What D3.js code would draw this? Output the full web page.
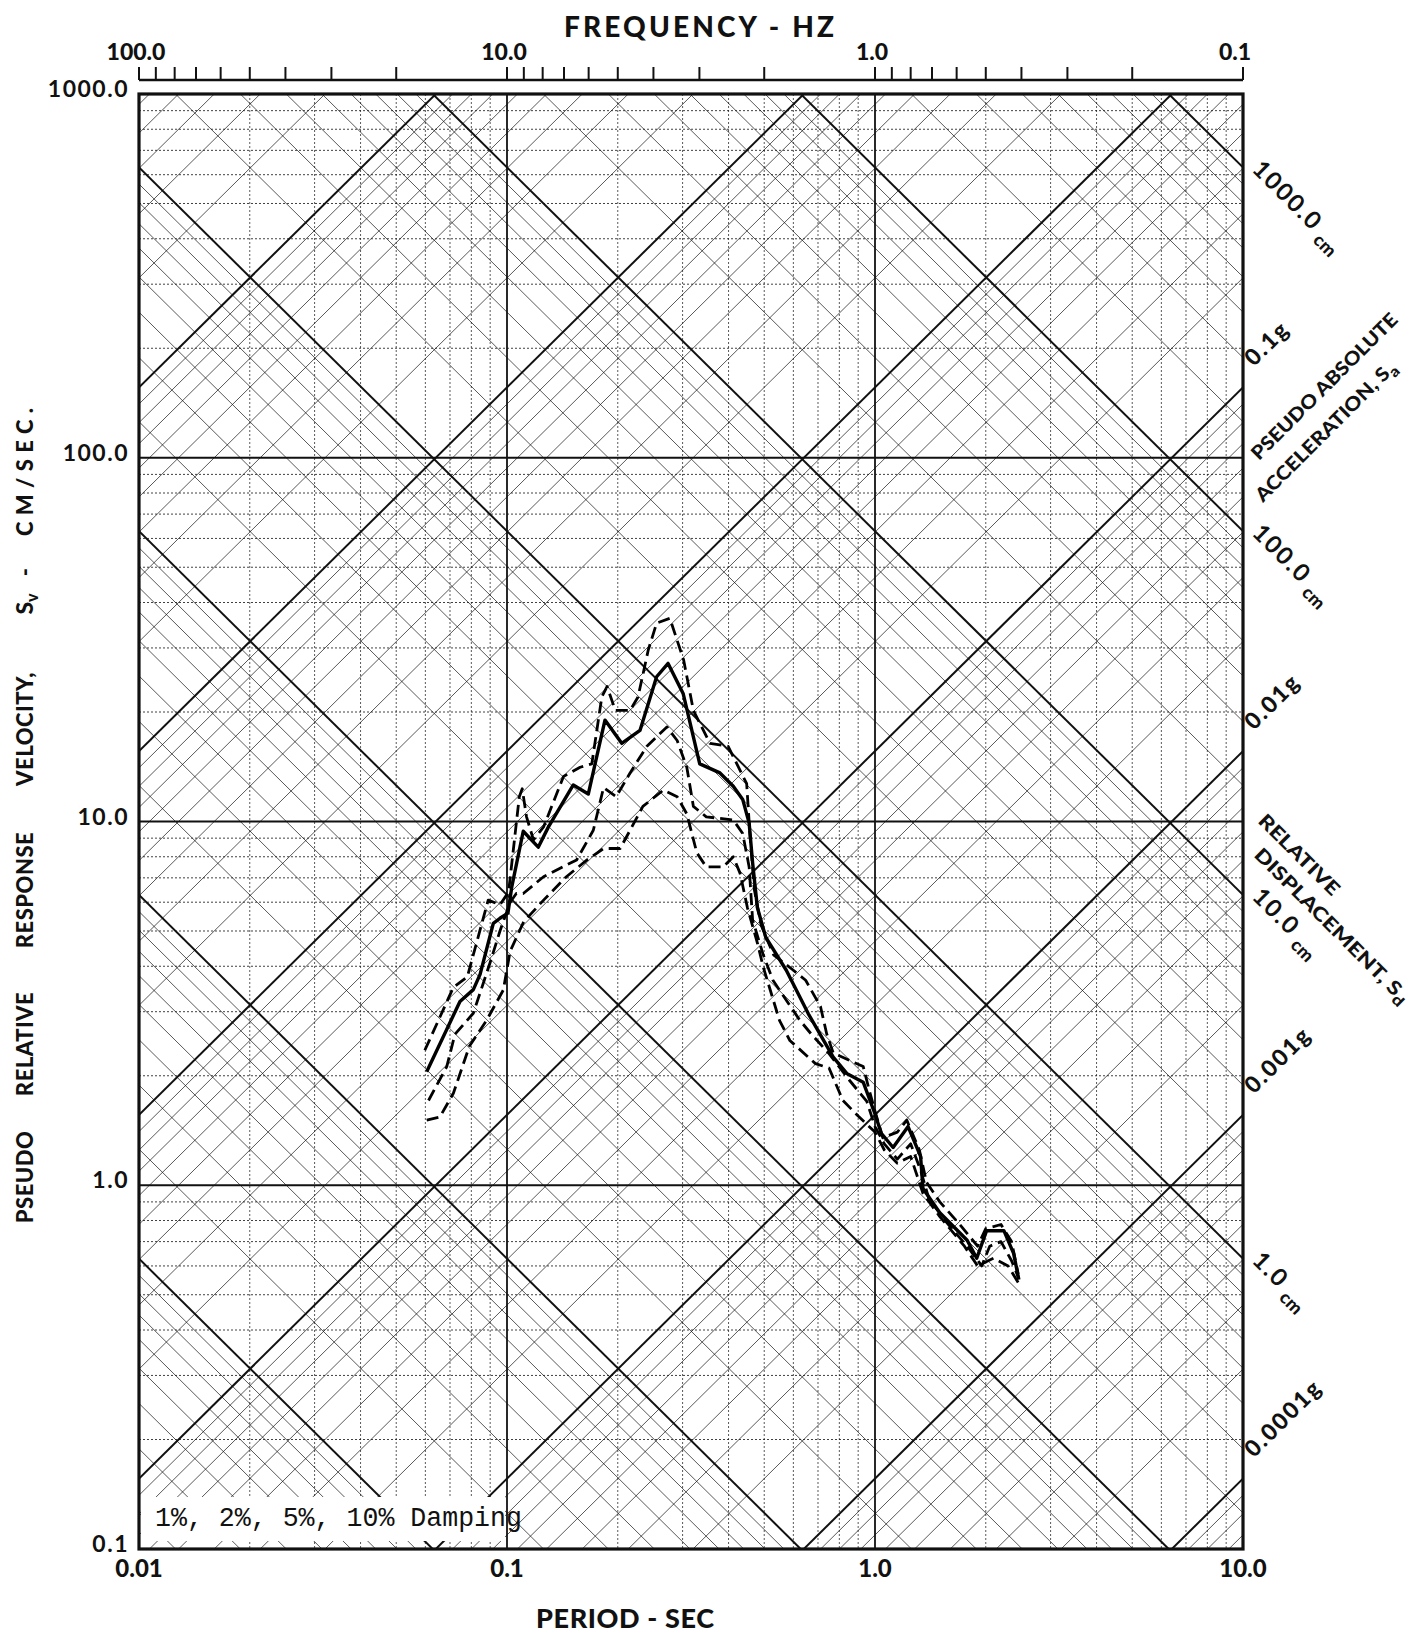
<!DOCTYPE html>
<html>
<head>
<meta charset="utf-8">
<script src="https://cdn.jsdelivr.net/npm/d3@7"></script>
<style>
  body { margin: 0; background: #fff; }
  text { font-family: Lato, "DejaVu Sans", sans-serif; fill: #111; }
</style>
</head>
<body>
<div id="chart"></div>
<script>
// axis ticks and labels
const periodTicks = [0.01, 0.1, 1.0, 10.0];
const periodLabels = ["0.01", "0.1", "1.0", "10.0"];
const velocityTicks = [0.1, 1, 10, 100, 1000];
const velocityLabels = ["0.1", "1.0", "10.0", "100.0", "1000.0"];
const freqTicks = [100, 10, 1, 0.1];
const freqLabels = ["100.0", "10.0", "1.0", "0.1"];
const dispValues = [1000, 100, 10, 1];          // cm
const dispLabels = ["1000.0", "100.0", "10.0", "1.0"];
const accValues = [0.1, 0.01, 0.001, 0.0001];   // g
const accLabels = ["0.1g", "0.01g", "0.001g", "0.0001g"];
const yTitleWords = ["PSEUDO", "RELATIVE", "RESPONSE", "VELOCITY,", "-"];

// spectra: [period sec, Sv cm/sec]
const damp1 = [[0.0598,2.35],[0.0715,3.5],[0.078,3.74],[0.0889,6.08],[0.0957,5.9],[0.101,6.4],[0.108,11.7],[0.110,12.3],[0.113,10.3],[0.118,8.9],[0.1257,9.66],[0.1424,13.3],[0.158,14.1],[0.170,14.4],[0.181,22.0],[0.187,23.5],[0.197,20.2],[0.216,20.2],[0.227,22.0],[0.242,29.6],[0.255,35.1],[0.277,36.2],[0.302,27.8],[0.321,20.2],[0.356,16.4],[0.399,16.1],[0.448,12.7],[0.457,9.3],[0.47,6.5],[0.49,5.2],[0.53,4.3],[0.60,3.9],[0.648,3.66],[0.711,3.1],[0.739,2.61],[0.770,2.31],[0.929,2.12],[0.964,1.83],[1.0,1.6],[1.05,1.35],[1.15,1.4],[1.22,1.51],[1.32,1.25],[1.38,1.02],[1.5,0.9],[1.7,0.78],[1.9,0.68],[2.0,0.76],[2.2,0.78],[2.35,0.7],[2.45,0.57]];
const damp2 = [[0.0605,2.05],[0.0745,3.2],[0.081,3.45],[0.0845,3.8],[0.0918,5.25],[0.0957,5.42],[0.1006,5.6],[0.103,6.6],[0.1107,9.4],[0.1216,8.5],[0.1295,9.65],[0.1514,12.6],[0.1663,11.9],[0.1846,19.0],[0.205,16.4],[0.2298,17.8],[0.255,25.0],[0.274,27.2],[0.301,22.5],[0.334,14.4],[0.379,13.6],[0.412,12.5],[0.437,11.5],[0.455,9.9],[0.465,7.7],[0.479,5.8],[0.505,4.8],[0.574,3.9],[0.659,2.96],[0.770,2.25],[0.838,2.03],[0.929,1.92],[1.0,1.57],[1.04,1.39],[1.12,1.27],[1.23,1.45],[1.33,1.2],[1.35,0.98],[1.50,0.84],[1.78,0.706],[1.89,0.63],[2.01,0.75],[2.24,0.75],[2.38,0.65],[2.46,0.55]];
const damp5 = [[0.0612,1.71],[0.0686,2.12],[0.0722,2.6],[0.081,2.97],[0.0898,4.07],[0.0957,5.0],[0.102,6.0],[0.106,6.34],[0.1107,6.34],[0.1257,7.05],[0.1546,7.84],[0.1716,9.46],[0.183,12.4],[0.198,11.7],[0.216,13.6],[0.240,16.1],[0.272,18.2],[0.290,16.7],[0.308,14.1],[0.321,11.0],[0.348,10.3],[0.412,10.1],[0.437,9.27],[0.455,7.5],[0.465,5.36],[0.497,4.3],[0.528,3.66],[0.625,2.84],[0.67,2.61],[0.75,2.3],[0.85,1.95],[0.95,1.7],[1.0,1.45],[1.06,1.3],[1.15,1.18],[1.25,1.3],[1.33,1.1],[1.4,0.92],[1.55,0.8],[1.8,0.67],[1.95,0.6],[2.05,0.68],[2.2,0.7],[2.35,0.62],[2.45,0.56]];
const damp10 = [[0.0605,1.51],[0.0657,1.54],[0.0715,1.79],[0.079,2.41],[0.088,2.84],[0.0977,3.44],[0.102,4.4],[0.111,5.3],[0.1257,6.08],[0.145,7.05],[0.165,7.84],[0.183,8.43],[0.203,8.43],[0.216,9.46],[0.234,11.0],[0.266,12.2],[0.290,11.7],[0.308,10.5],[0.328,8.2],[0.348,7.5],[0.387,7.5],[0.412,8.0],[0.430,7.2],[0.45,5.8],[0.48,4.6],[0.497,3.98],[0.550,2.84],[0.587,2.50],[0.689,2.16],[0.75,2.1],[0.818,1.71],[0.9,1.55],[1.0,1.4],[1.06,1.25],[1.15,1.15],[1.25,1.2],[1.35,0.95],[1.5,0.82],[1.75,0.68],[1.9,0.6],[2.1,0.63],[2.3,0.6],[2.45,0.54]];

const width = 1411, height = 1638;
const x0 = 139, x1 = 1243, y0 = 94, y1 = 1549;
const G = 981;

const svg = d3.select("#chart").append("svg")
    .attr("width", width)
    .attr("height", height);

const x = d3.scaleLog().domain([0.01, 10]).range([x0, x1]);
const y = d3.scaleLog().domain([0.1, 1000]).range([y1, y0]);

svg.append("clipPath").attr("id", "plotclip")
  .append("rect").attr("x", x0).attr("y", y0).attr("width", x1 - x0).attr("height", y1 - y0);

const grid = svg.append("g").attr("clip-path", "url(#plotclip)");

// multiples 1..9 of each decade
function multiples(lo, hi) {
  const out = [];
  for (let e = lo; e <= hi; e++)
    for (let k = 1; k <= 9; k++) out.push({ v: k * Math.pow(10, e), major: k === 1 });
  return out;
}

const vLines = multiples(-2, 0);
grid.selectAll(".vline").data(vLines).join("line")
    .attr("x1", d => x(d.v)).attr("x2", d => x(d.v))
    .attr("y1", y0).attr("y2", y1)
    .attr("stroke", "#111")
    .attr("stroke-width", d => d.major ? 1.8 : 0.7)
    .attr("stroke-dasharray", d => d.major ? null : "2,2");

const hLines = multiples(-1, 2);
grid.selectAll(".hline").data(hLines).join("line")
    .attr("x1", x0).attr("x2", x1)
    .attr("y1", d => y(d.v)).attr("y2", d => y(d.v))
    .attr("stroke", "#111")
    .attr("stroke-width", d => d.major ? 1.8 : 0.8)
    .attr("stroke-dasharray", d => d.major ? null : "2,2");

// pseudo acceleration lines (g), Sv = Sa T / 2pi
const accLines = multiples(-5, 2);
grid.selectAll(".aline").data(accLines).join("line")
    .attr("x1", x(0.001)).attr("y1", d => y(d.v * G * 0.001 / (2 * Math.PI)))
    .attr("x2", x(100)).attr("y2", d => y(d.v * G * 100 / (2 * Math.PI)))
    .attr("stroke", "#111")
    .attr("stroke-width", d => d.major ? 2 : 0.7);

// relative displacement lines (cm), Sv = 2pi Sd / T
const dispLines = multiples(-4, 3);
grid.selectAll(".dline").data(dispLines).join("line")
    .attr("x1", x(0.001)).attr("y1", d => y(2 * Math.PI * d.v / 0.001))
    .attr("x2", x(100)).attr("y2", d => y(2 * Math.PI * d.v / 100))
    .attr("stroke", "#111")
    .attr("stroke-width", d => d.major ? 2 : 0.7);

// damping note box
svg.append("rect").attr("x", x0 + 2).attr("y", 1497).attr("width", 364).attr("height", 44).attr("fill", "#fff");
svg.append("text")
    .attr("x", 155).attr("y", 1526)
    .attr("textLength", 367).attr("lengthAdjust", "spacingAndGlyphs")
    .style("font-family", "'Liberation Mono', 'DejaVu Sans Mono', monospace")
    .style("font-size", "27px")
    .text("1%, 2%, 5%, 10% Damping");

// frame
svg.append("rect").attr("x", x0).attr("y", y0).attr("width", x1 - x0).attr("height", y1 - y0)
    .attr("fill", "none").attr("stroke", "#111").attr("stroke-width", 3.2);

// spectra
const line = d3.line().x(d => x(d[0])).y(d => y(d[1]));
const series = [
  { data: damp1, dash: "12,6", w: 2.8 },
  { data: damp5, dash: "12,6", w: 2.8 },
  { data: damp10, dash: "12,6", w: 2.8 },
  { data: damp2, dash: null, w: 3.4 }
];
svg.append("g").selectAll("path").data(series).join("path")
    .attr("d", d => line(d.data))
    .attr("fill", "none")
    .attr("stroke", "#000")
    .attr("stroke-width", d => d.w)
    .attr("stroke-linejoin", "round")
    .attr("stroke-dasharray", d => d.dash);

// frequency axis on top
const fy = 80;
svg.append("line").attr("x1", x0).attr("x2", x1).attr("y1", fy).attr("y2", fy)
    .attr("stroke", "#111").attr("stroke-width", 2.5);
const fTicks = multiples(-1, 1).concat([{ v: 100, major: true }]);
svg.append("g").selectAll("line").data(fTicks).join("line")
    .attr("x1", d => x(1 / d.v)).attr("x2", d => x(1 / d.v))
    .attr("y1", fy).attr("y2", fy - 13)
    .attr("stroke", "#111").attr("stroke-width", 2);
svg.append("g").selectAll("text").data(freqTicks).join("text")
    .attr("x", (d, i) => x(1 / d) + (i === 3 ? -8 : -3))
    .attr("y", 60)
    .attr("text-anchor", "middle")
    .style("font-size", "23px").style("font-weight", 900)
    .text((d, i) => freqLabels[i]);

svg.append("text").attr("x", 564).attr("y", 37)
    .attr("textLength", 270).attr("lengthAdjust", "spacing")
    .style("font-size", "28px").style("font-weight", 900)
    .text("FREQUENCY  -  HZ");

// left velocity labels
svg.append("g").selectAll("text").data(velocityTicks).join("text")
    .attr("x", 129)
    .attr("y", d => y(d) + 3)
    .attr("text-anchor", "end")
    .style("font-size", "23px").style("font-weight", 700).style("letter-spacing", "1.5px")
    .text((d, i) => velocityLabels[i]);

// bottom period labels
svg.append("g").selectAll("text").data(periodTicks).join("text")
    .attr("x", d => x(d))
    .attr("y", 1577)
    .attr("text-anchor", "middle")
    .style("font-size", "24px").style("font-weight", 900)
    .text((d, i) => periodLabels[i]);

svg.append("text").attr("x", 536).attr("y", 1628)
    .attr("textLength", 178).attr("lengthAdjust", "spacing")
    .style("font-size", "27px").style("font-weight", 900)
    .text("PERIOD - SEC");

// y axis title, one word at a time (wide gaps as on the sheet)
const wordCenters = [1177, 1044, 890, 729, 572];
yTitleWords.forEach((w, i) => {
  svg.append("text")
      .attr("transform", `translate(33,${wordCenters[i]}) rotate(-90)`)
      .attr("text-anchor", "middle")
      .style("font-size", "22px").style("font-weight", 900).style("letter-spacing", "0.5px")
      .text(w);
});
const sv = svg.append("text")
    .attr("transform", "translate(33,604) rotate(-90)")
    .attr("text-anchor", "middle")
    .style("font-size", "23px").style("font-weight", 900);
sv.append("tspan").text("S");
sv.append("tspan").attr("dy", 5).style("font-size", "16px").text("v");
svg.append("text")
    .attr("transform", "translate(33,472) rotate(-90)")
    .attr("text-anchor", "middle")
    .attr("textLength", 128).attr("lengthAdjust", "spacing")
    .style("font-size", "22px").style("font-weight", 900)
    .text("CM/SEC.");

// right side: displacement labels (along +45)
const rl = svg.append("g");
dispValues.forEach((d, i) => {
  const yy = y(2 * Math.PI * d / 10) + 3;
  const t = rl.append("text")
      .attr("transform", `translate(1251,${yy}) rotate(45)`)
      .style("font-size", "24px").style("font-weight", 700).style("letter-spacing", "2px");
  t.append("tspan").text(dispLabels[i]);
  t.append("tspan").attr("dx", 6).attr("dy", 7).style("font-size", "18px").style("font-weight", 900)
      .style("letter-spacing", "0px").text("cm");
});

// acceleration labels (along -45)
accValues.forEach((d, i) => {
  const yy = y(d * G * 10 / (2 * Math.PI)) - 20;
  rl.append("text")
      .attr("transform", `translate(1254,${yy}) rotate(-45)`)
      .style("font-size", "23px").style("font-weight", 900).style("letter-spacing", "2px")
      .text(accLabels[i]);
});

function axisTitle(tx, ty, ang, len, parts) {
  const t = rl.append("text")
      .attr("transform", `translate(${tx},${ty}) rotate(${ang})`)
      .attr("textLength", len).attr("lengthAdjust", "spacingAndGlyphs")
      .style("font-size", "19px").style("font-weight", 900);
  parts.forEach(p => {
    const s = t.append("tspan").text(p.t);
    if (p.sub) s.attr("dy", 5).style("font-size", "15px");
  });
}
axisTitle(1259, 461, -45, 198, [{ t: "PSEUDO ABSOLUTE" }]);
axisTitle(1263, 503, -45, 190, [{ t: "ACCELERATION, S" }, { t: "a", sub: true }]);
axisTitle(1257, 822, 45, 106, [{ t: "RELATIVE" }]);
axisTitle(1253, 856, 45, 210, [{ t: "DISPLACEMENT, S" }, { t: "d", sub: true }]);
</script>
</body>
</html>
